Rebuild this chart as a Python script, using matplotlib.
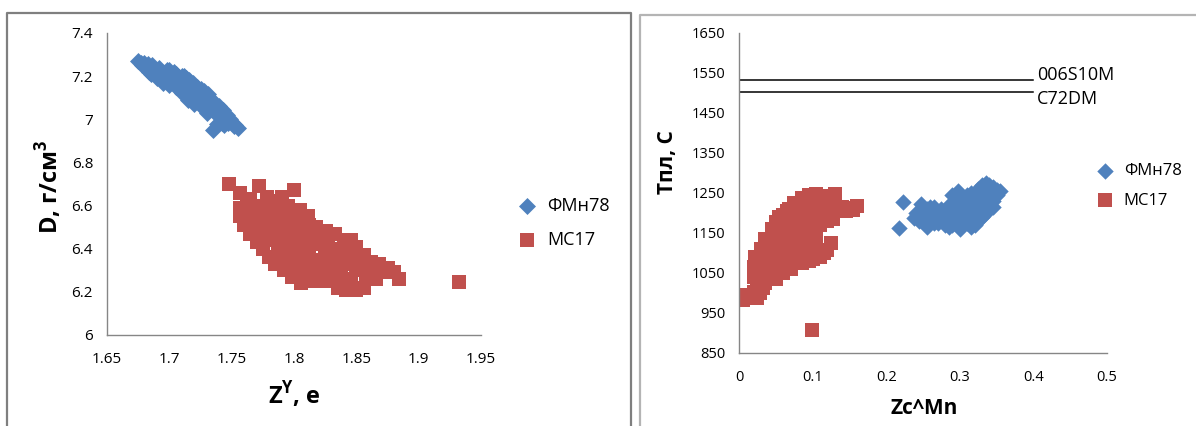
import matplotlib
matplotlib.use("Agg")
import matplotlib.pyplot as plt
from matplotlib.lines import Line2D

plt.rcParams["font.family"] = ["Open Sans", "DejaVu Sans"]
plt.rcParams["mathtext.fontset"] = "custom"
plt.rcParams["mathtext.bf"] = "Open Sans:bold"
plt.rcParams["mathtext.rm"] = "Open Sans"

BLUE = "#4F81BD"
RED = "#C0504D"
AXIS = "#868686"

# --- left chart: D vs Z^Y ---
fmn_zy = [1.675, 1.678, 1.680, 1.682, 1.684, 1.686, 1.688, 1.690, 1.692, 1.694,
          1.696, 1.698, 1.700, 1.702, 1.704, 1.706, 1.708, 1.710, 1.712, 1.714,
          1.716, 1.718, 1.720, 1.722, 1.724, 1.726, 1.716, 1.728, 1.730, 1.732,
          1.734, 1.736, 1.738, 1.740, 1.742, 1.744, 1.746, 1.748, 1.735, 1.738,
          1.752, 1.755, 1.720, 1.730,
          1.677, 1.683, 1.687, 1.691, 1.695, 1.699, 1.703, 1.707, 1.711, 1.713,
          1.717, 1.719, 1.721, 1.723, 1.725, 1.727, 1.729, 1.731, 1.733, 1.737,
          1.739, 1.741, 1.743, 1.745, 1.747, 1.749, 1.751, 1.753, 1.742, 1.744,
          1.700, 1.705, 1.712, 1.718,
          1.685, 1.690, 1.695, 1.700, 1.705, 1.710, 1.715, 1.720, 1.725, 1.730]
fmn_d = [7.27, 7.25, 7.26, 7.24, 7.22, 7.25, 7.23, 7.21, 7.24, 7.22,
         7.20, 7.23, 7.21, 7.19, 7.22, 7.20, 7.17, 7.20, 7.18, 7.15,
         7.18, 7.16, 7.13, 7.15, 7.12, 7.10, 7.11, 7.13, 7.10, 7.07,
         7.09, 7.05, 7.02, 7.06, 7.03, 7.00, 7.02, 6.99, 6.95, 6.98,
         6.97, 6.96, 7.09, 7.04,
         7.26, 7.255, 7.24, 7.225, 7.21, 7.20, 7.205, 7.185, 7.165, 7.19,
         7.145, 7.17, 7.14, 7.125, 7.14, 7.115, 7.085, 7.115, 7.075, 7.07,
         7.045, 7.02, 7.045, 7.015, 6.985, 7.00, 6.98, 6.975, 6.985, 6.975,
         7.23, 7.21, 7.20, 7.12,
         7.21, 7.19, 7.17, 7.16, 7.15, 7.12, 7.09, 7.07, 7.06, 7.03]

mc_zy = [1.748, 1.772, 1.800, 1.757, 1.765, 1.778, 1.787, 1.790, 1.795, 1.805, 1.811,
         1.757, 1.757, 1.760, 1.765, 1.770, 1.775, 1.780, 1.785, 1.792, 1.798, 1.806,
         1.815, 1.825, 1.835, 1.842, 1.850, 1.856,
         1.818, 1.826, 1.833, 1.840, 1.846, 1.850, 1.856, 1.862, 1.868, 1.875, 1.880,
         1.884, 1.866, 1.858,
         1.770, 1.775, 1.780, 1.785, 1.790, 1.795, 1.800, 1.782, 1.790, 1.797, 1.803,
         1.808, 1.812, 1.818, 1.812, 1.820, 1.825, 1.828, 1.822, 1.832, 1.836, 1.838,
         1.843, 1.846, 1.850, 1.852, 1.832, 1.800, 1.806, 1.773, 1.767, 1.786, 1.795,
         1.803, 1.815,
         1.762, 1.768, 1.772, 1.778, 1.783, 1.787, 1.793, 1.798, 1.802, 1.807,
         1.810, 1.815, 1.817, 1.822, 1.827, 1.830, 1.834, 1.840, 1.843, 1.848,
         1.854, 1.860, 1.864, 1.871, 1.840, 1.826, 1.818, 1.805, 1.797, 1.790,
         1.784, 1.796, 1.812, 1.800, 1.792, 1.780, 1.763, 1.770, 1.776, 1.788,
         1.932]
mc_d = [6.70, 6.69, 6.67, 6.66, 6.63, 6.64, 6.62, 6.64, 6.60, 6.58, 6.55,
        6.59, 6.55, 6.51, 6.47, 6.43, 6.40, 6.36, 6.33, 6.30, 6.27, 6.24,
        6.25, 6.25, 6.22, 6.21, 6.21, 6.22,
        6.50, 6.48, 6.47, 6.44, 6.44, 6.41, 6.37, 6.34, 6.33, 6.31, 6.29,
        6.26, 6.26, 6.28,
        6.58, 6.52, 6.56, 6.50, 6.45, 6.52, 6.48, 6.46, 6.39, 6.42, 6.36,
        6.44, 6.40, 6.35, 6.30, 6.42, 6.38, 6.32, 6.28, 6.40, 6.35, 6.29,
        6.33, 6.26, 6.30, 6.36, 6.26, 6.31, 6.33, 6.47, 6.53, 6.57, 6.56,
        6.52, 6.47,
        6.62, 6.60, 6.55, 6.50, 6.44, 6.40, 6.35, 6.38, 6.42, 6.48,
        6.36, 6.32, 6.43, 6.46, 6.44, 6.36, 6.31, 6.38, 6.40, 6.34,
        6.31, 6.30, 6.29, 6.29, 6.25, 6.29, 6.28, 6.29, 6.33, 6.50,
        6.55, 6.46, 6.51, 6.55, 6.60, 6.60, 6.57, 6.49, 6.45, 6.36,
        6.245]

# --- right chart: melting temperature vs Zc^Mn ---
fmn_zc = [0.217, 0.223, 0.238, 0.247, 0.250, 0.255, 0.260, 0.265, 0.270, 0.275,
          0.280, 0.285, 0.290, 0.290, 0.295, 0.300, 0.300, 0.305, 0.310, 0.315,
          0.315, 0.320, 0.325, 0.325, 0.330, 0.335, 0.335, 0.340, 0.345, 0.350,
          0.340, 0.310, 0.320, 0.330, 0.260, 0.285, 0.298,
          0.240, 0.245, 0.255, 0.265, 0.270, 0.275, 0.280, 0.285, 0.290, 0.295,
          0.300, 0.305, 0.305, 0.310, 0.310, 0.315, 0.320, 0.320, 0.325, 0.325,
          0.330, 0.330, 0.335, 0.340, 0.345, 0.345, 0.350, 0.355, 0.330, 0.295,
          0.300, 0.265, 0.255, 0.280, 0.250]
fmn_t = [1163, 1228, 1188, 1222, 1195, 1165, 1180, 1200, 1175, 1210,
         1190, 1165, 1200, 1245, 1180, 1160, 1215, 1235, 1195, 1165,
         1250, 1215, 1180, 1260, 1235, 1275, 1200, 1255, 1230, 1258,
         1270, 1175, 1190, 1210, 1215, 1220, 1255,
         1200, 1180, 1210, 1175, 1195, 1185, 1205, 1185, 1170, 1225,
         1195, 1175, 1205, 1225, 1245, 1200, 1235, 1170, 1245, 1200,
         1190, 1255, 1220, 1240, 1265, 1215, 1245, 1255, 1270, 1200,
         1240, 1215, 1190, 1170, 1210]

mc_zc = [0.005, 0.015, 0.020, 0.025, 0.033, 0.020, 0.020, 0.022, 0.030, 0.035,
         0.045, 0.050, 0.060, 0.068, 0.075, 0.085, 0.095, 0.105, 0.112, 0.130,
         0.118, 0.125, 0.135, 0.145, 0.160, 0.150,
         0.040, 0.050, 0.060, 0.070, 0.080, 0.090, 0.100, 0.040, 0.050, 0.060,
         0.070, 0.080, 0.090, 0.060, 0.070, 0.080, 0.090, 0.100, 0.110, 0.120,
         0.080, 0.090, 0.100, 0.105, 0.110, 0.125, 0.120, 0.030, 0.045, 0.055,
         0.070, 0.085, 0.100, 0.100, 0.128,
         0.010, 0.028, 0.025, 0.028, 0.030, 0.035, 0.040, 0.045, 0.055, 0.055,
         0.065, 0.065, 0.075, 0.075, 0.085, 0.085, 0.095, 0.095, 0.105, 0.105,
         0.115, 0.120, 0.125, 0.140, 0.155, 0.115, 0.120, 0.110, 0.075, 0.065,
         0.055, 0.045, 0.035, 0.035, 0.050, 0.060, 0.075, 0.085, 0.095, 0.105,
         0.095, 0.115, 0.085, 0.065, 0.055,
         0.099]
mc_t = [982, 990, 1003, 988, 1013, 1040, 1065, 1090, 1110, 1135,
        1160, 1178, 1195, 1210, 1225, 1238, 1245, 1248, 1242, 1248,
        1225, 1210, 1205, 1205, 1218, 1212,
        1060, 1090, 1120, 1150, 1180, 1205, 1225, 1090, 1130, 1160,
        1185, 1210, 1225, 1075, 1100, 1130, 1160, 1190, 1215, 1195,
        1090, 1110, 1130, 1100, 1090, 1125, 1108, 1040, 1040, 1055,
        1060, 1075, 1085, 1160, 1185,
        995, 1000, 1025, 1060, 1080, 1100, 1120, 1140, 1145, 1170,
        1175, 1140, 1165, 1195, 1195, 1220, 1235, 1190, 1205, 1238,
        1230, 1240, 1230, 1215, 1208, 1200, 1180, 1170, 1130, 1100,
        1110, 1070, 1060, 1025, 1035, 1050, 1080, 1100, 1130, 1140,
        1080, 1100, 1155, 1205, 1190,
        907]

steel_names = ["006S10M", "C72DM"]
steel_tpl = [1533, 1503]


def style_axes(ax, fs):
    for s in ("top", "right"):
        ax.spines[s].set_visible(False)
    for s in ("left", "bottom"):
        ax.spines[s].set_color(AXIS)
        ax.spines[s].set_linewidth(1.0)
    ax.tick_params(length=0, labelsize=fs, colors="black")
    ax.tick_params(axis="y", pad=10)
    ax.tick_params(axis="x", pad=12)


fig = plt.figure(figsize=(11.96, 4.26), dpi=100)
W, H = 1196.0, 426.0

# chart frames (Excel-like borders)
fig.add_artist(Line2D([7 / W, 7 / W, 631 / W, 631 / W], [0, 1 - 13 / H, 1 - 13 / H, 0],
                      transform=fig.transFigure, color="#7f7f7f", lw=1.6))
fig.add_artist(Line2D([640 / W, 640 / W, 1.0], [0, 1 - 15 / H, 1 - 15 / H],
                      transform=fig.transFigure, color="#b4b4b4", lw=1.6))

# left
ax1 = fig.add_axes([107 / W, 1 - 335 / H, 374 / W, 302 / H])
ax1.scatter(fmn_zy, fmn_d, marker="D", s=75, color=BLUE, linewidths=0, label="ФМн78")
ax1.scatter(mc_zy, mc_d, marker="s", s=110, color=RED, linewidths=0, label="МС17")
ax1.set_xlim(1.65, 1.95)
ax1.set_ylim(6, 7.4)
ax1.set_xticks([1.65, 1.7, 1.75, 1.8, 1.85, 1.9, 1.95])
ax1.set_xticklabels(["1.65", "1.7", "1.75", "1.8", "1.85", "1.9", "1.95"])
ax1.set_yticks([6, 6.2, 6.4, 6.6, 6.8, 7, 7.2, 7.4])
ax1.set_yticklabels(["6", "6.2", "6.4", "6.6", "6.8", "7", "7.2", "7.4"])
style_axes(ax1, 11)
fig.text(294 / W, 1 - 395 / H, r"Z$^{\mathbf{Y}}$, e", ha="center", va="center",
         fontsize=17, fontweight="bold")
fig.text(49 / W, 1 - 187 / H, r"D, г/см$^{\mathbf{3}}$", ha="center", va="center",
         fontsize=17, fontweight="bold", rotation=90)
ax1.legend(loc="center left", bbox_to_anchor=(502 / W, 1 - 223 / H),
           bbox_transform=fig.transFigure, frameon=False, fontsize=13,
           handletextpad=0.1, labelspacing=0.9, scatterpoints=1, borderaxespad=0)

# right
ax2 = fig.add_axes([739 / W, 1 - 353 / H, 368 / W, 320 / H])
ax2.scatter(fmn_zc, fmn_t, marker="D", s=70, color=BLUE, linewidths=0, label="ФМн78")
ax2.scatter(mc_zc, mc_t, marker="s", s=90, color=RED, linewidths=0, label="МС17")
for name, t in zip(steel_names, steel_tpl):
    ax2.plot([0, 0.4], [t, t], color="black", lw=1.1)
ax2.text(0.405, steel_tpl[0] + 12, steel_names[0], ha="left", va="center", fontsize=13)
ax2.text(0.405, steel_tpl[1] - 18, steel_names[1], ha="left", va="center", fontsize=13)
ax2.set_xlim(0, 0.5)
ax2.set_ylim(850, 1650)
ax2.set_xticks([0, 0.1, 0.2, 0.3, 0.4, 0.5])
ax2.set_xticklabels(["0", "0.1", "0.2", "0.3", "0.4", "0.5"])
ax2.set_yticks(list(range(850, 1651, 100)))
style_axes(ax2, 10.5)
fig.text(924 / W, 1 - 408 / H, "Zc^Mn", ha="center", va="center",
         fontsize=15, fontweight="bold")
fig.text(668 / W, 1 - 162 / H, "Тпл, С", ha="center", va="center",
         fontsize=15, fontweight="bold", rotation=90)
ax2.legend(loc="center left", bbox_to_anchor=(1082 / W, 1 - 186 / H),
           bbox_transform=fig.transFigure, frameon=False, fontsize=12,
           handletextpad=0.1, labelspacing=0.8, scatterpoints=1, borderaxespad=0)

fig.savefig("out.png", dpi=100)
